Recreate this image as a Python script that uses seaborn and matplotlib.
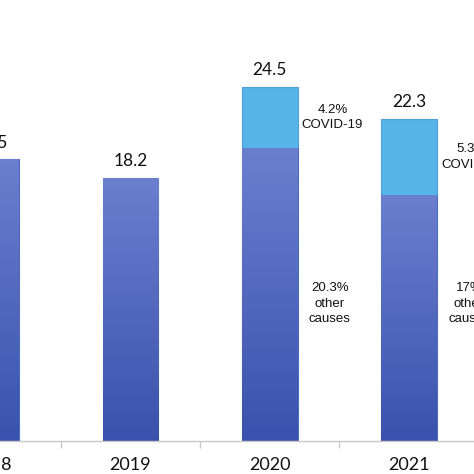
import matplotlib
matplotlib.use("Agg")
import matplotlib.pyplot as plt
import numpy as np
import pandas as pd
import seaborn as sns
from matplotlib.colors import LinearSegmentedColormap

# datos
years = ["2018", "2019", "2020", "2021"]
total = [19.5, 18.2, 24.5, 22.3]
other_causes = [19.5, 18.2, 20.3, 17.0]
covid = [0.0, 0.0, 4.2, 5.3]
covid_labels = ["", "", "4.2%\nCOVID-19", "5.3%\nCOVID-19"]
other_labels = ["", "", "20.3%\nother\ncauses", "17%\nother\ncauses"]

df = pd.DataFrame({"year": years, "total": total, "other": other_causes, "covid": covid})

sns.set_style("white")
plt.rcParams["font.family"] = ["Lato", "DejaVu Sans"]

fig = plt.figure(figsize=(4.74, 4.74), dpi=100)
ax = fig.add_axes([0, 33 / 474, 1, 441 / 474])

# barra total (parte covid en azul claro) y encima la parte de otras causas
sns.barplot(data=df, x="year", y="total", order=years, color="#56b4e9", saturation=1,
            width=0.4, edgecolor="#4d9fd6", linewidth=0.8, ax=ax)
n_light = len(ax.patches)
sns.barplot(data=df, x="year", y="other", order=years, color="#4a62bd", saturation=1,
            width=0.4, edgecolor="#4a62bd", linewidth=0.5, ax=ax)

# degradado vertical en las barras oscuras
cmap = LinearSegmentedColormap.from_list("azul", ["#3a52ad", "#6b7fcf"])
grad = np.linspace(0, 1, 256).reshape(-1, 1)
for p in ax.patches[n_light:]:
    x0, w, h = p.get_x(), p.get_width(), p.get_height()
    im = ax.imshow(grad, cmap=cmap, origin="lower", aspect="auto",
                   extent=[x0, x0 + w, 0, h], vmin=0, vmax=1, zorder=p.get_zorder() + 0.1)
    im.set_clip_path(p)

ax.set_xlim(0.063, 3.466)
ax.set_ylim(0, 30.52)

for i, v in enumerate(total):
    ax.text(i, v + 1.15, f"{v:.1f}", ha="center", va="center", fontsize=12.5, color="#111111")

for i in range(len(years)):
    if covid_labels[i]:
        ax.text(i + 0.45, other_causes[i] + covid[i] / 2, covid_labels[i], ha="center",
                va="center", fontsize=9.5, family=["Liberation Sans"], linespacing=1.4,
                color="#111111")
    if other_labels[i]:
        ax.text(i + 0.43, 9.5, other_labels[i], ha="center", va="center", fontsize=9.5,
                family=["Liberation Sans"], linespacing=1.4, color="#111111")

# etiquetas de los años (la de 2018 queda fuera de los limites, se dibuja a mano)
ax.set_xticks([])
for i, y in enumerate(years):
    ax.text(i, -0.054, y, transform=ax.get_xaxis_transform(), ha="center", va="center",
            fontsize=13, color="#111111", clip_on=False)

ax.set_xlabel("")
ax.set_ylabel("")
ax.set_yticks([])
for s in ["top", "left", "right"]:
    ax.spines[s].set_visible(False)
ax.spines["bottom"].set_color("#c8c8c8")
ax.spines["bottom"].set_linewidth(1)
ax.set_xticks([0.5, 1.5, 2.5], minor=True)
ax.tick_params(axis="x", which="minor", length=5, color="#c8c8c8", width=1, bottom=True)

fig.savefig("out.png", dpi=100)
plt.close()
